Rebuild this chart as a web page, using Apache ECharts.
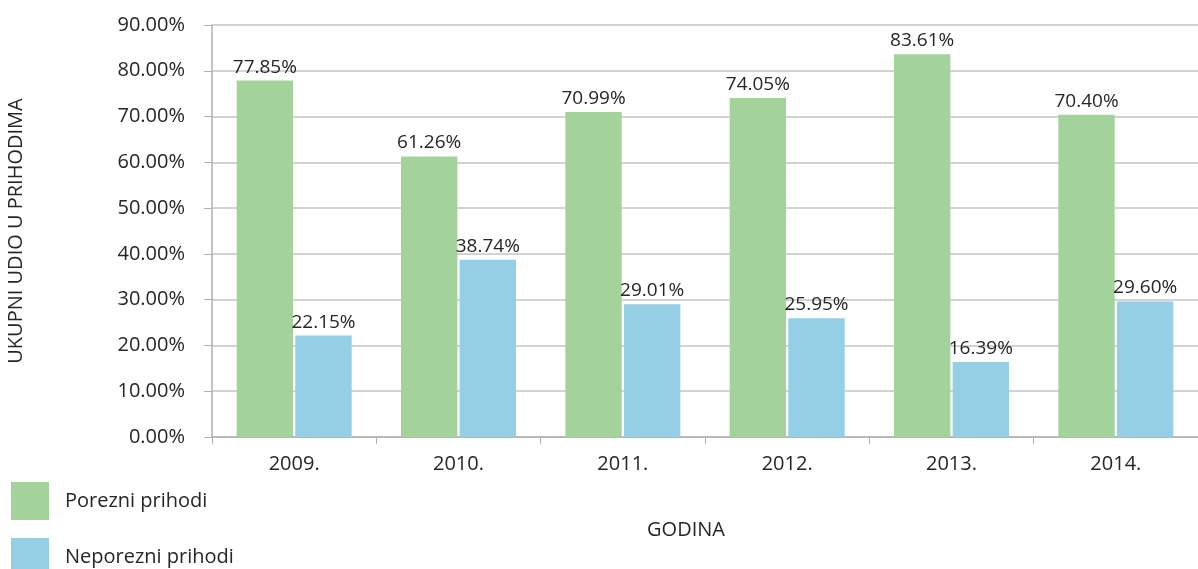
<!DOCTYPE html>
<html>
<head>
<meta charset="utf-8">
<script src="https://cdn.jsdelivr.net/npm/echarts@6/dist/echarts.min.js"></script>
<style>
  html, body { margin: 0; padding: 0; background: #fff; }
  #main { width: 1198px; height: 569px; }
</style>
</head>
<body>
<div id="main"></div>
<script>
var years = ['2009.', '2010.', '2011.', '2012.', '2013.', '2014.'];
var porezni = [77.85, 61.26, 70.99, 74.05, 83.61, 70.40];
var neporezni = [22.15, 38.74, 29.01, 25.95, 16.39, 29.60];

var font = '"Open Sans", sans-serif';
var txt = '#262626';
var fs = 20;
var labelCfg = {
    show: true,
    position: 'top',
    distance: 4,
    color: txt,
    fontSize: 19,
    fontFamily: font,
    formatter: function (p) { return p.value.toFixed(2) + '%'; }
};

function legendAt(top, name) {
    return {
        orient: 'vertical',
        left: 6,
        top: top,
        itemWidth: 38,
        itemHeight: 38,
        icon: 'rect',
        textStyle: { fontSize: fs, color: txt, fontFamily: font, padding: [0, 0, 0, 11] },
        data: [name]
    };
}

var myChart = echarts.init(document.getElementById('main'));
var option = {
    animation: false,
    color: ['#a3d39b', '#95cfe5'],
    grid: { left: 212, right: 0, top: 25, bottom: 132, outerBoundsMode: 'none' },
    legend: [legendAt(477, 'Porezni prihodi'), legendAt(533, 'Neporezni prihodi')],
    xAxis: {
        type: 'category',
        data: years,
        name: 'GODINA',
        nameLocation: 'middle',
        nameGap: 83,
        nameTextStyle: { fontSize: fs, color: txt, fontFamily: font, padding: [0, 38, 0, 0] },
        axisLine: { lineStyle: { color: '#b0b0b0', width: 1.5 } },
        axisTick: { show: true, length: 7, lineStyle: { color: '#b0b0b0' } },
        axisLabel: { margin: 17, fontSize: fs, color: txt, fontFamily: font }
    },
    yAxis: {
        type: 'value',
        min: 0,
        max: 90,
        interval: 10,
        name: 'UKUPNI UDIO U PRIHODIMA',
        nameLocation: 'middle',
        nameRotate: 90,
        nameGap: 186,
        nameTextStyle: { fontSize: fs, color: txt, fontFamily: font },
        axisLine: { show: true, lineStyle: { color: '#b0b0b0', width: 1.5 } },
        axisTick: { show: true, length: 8, lineStyle: { color: '#b0b0b0' } },
        axisLabel: {
            margin: 27,
            fontSize: fs,
            color: txt,
            fontFamily: font,
            formatter: function (v) { return v.toFixed(2) + '%'; }
        },
        splitLine: { lineStyle: { color: '#c4c4c4', width: 1.5 } }
    },
    series: [
        {
            name: 'Porezni prihodi',
            type: 'bar',
            data: porezni,
            barGap: '4%',
            barCategoryGap: '30%',
            label: labelCfg
        },
        {
            name: 'Neporezni prihodi',
            type: 'bar',
            data: neporezni,
            label: labelCfg
        }
    ]
};
myChart.setOption(option);
</script>
</body>
</html>
